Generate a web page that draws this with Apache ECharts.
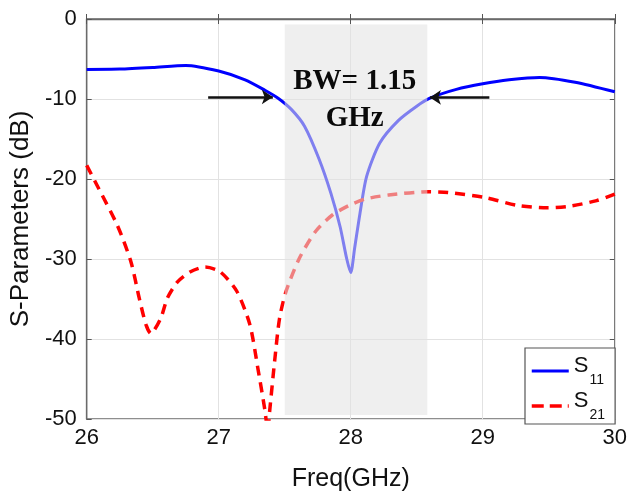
<!DOCTYPE html>
<html><head><meta charset="utf-8">
<script src="https://cdn.jsdelivr.net/npm/echarts@6/dist/echarts.min.js"></script>
<style>html,body{margin:0;padding:0;background:#fff}#c{width:630px;height:497px}</style>
</head><body><div id="c"></div>
<script>
// ---- data ----
const s11Freq = [26.0, 26.25, 26.5, 26.75, 27.0, 27.2, 27.35, 27.45, 27.55, 27.65, 27.76, 27.85, 27.92, 27.97, 28.0, 28.03, 28.07, 28.12, 28.22, 28.36, 28.5, 28.6, 28.8, 29.0, 29.2, 29.43, 29.7, 30.0];
const s11Db   = [-6.3, -6.25, -6.05, -5.8, -6.5, -7.6, -8.9, -9.9, -11.3, -13.4, -17.5, -21.8, -26.0, -30.0, -31.7, -28.6, -24.3, -19.7, -15.5, -12.7, -10.9, -9.9, -8.8, -8.1, -7.6, -7.3, -7.9, -9.1];
const s21Freq = [26.0, 26.085, 26.235, 26.336, 26.398, 26.449, 26.486, 26.561, 26.611, 26.686, 26.786, 26.898, 27.011, 27.136, 27.236, 27.299, 27.349, 27.372, 27.386, 27.424, 27.461, 27.511, 27.611, 27.736, 27.861, 27.987, 28.111, 28.287, 28.587, 28.737, 29.012, 29.262, 29.487, 29.662, 29.863, 30.0];
const s21Db   = [-18.3, -21.0, -25.9, -30.4, -34.9, -38.2, -39.3, -37.4, -34.9, -32.9, -31.6, -31.0, -31.6, -34.0, -38.2, -43.9, -48.8, -51.5, -49.0, -42.7, -37.4, -34.0, -29.9, -26.5, -24.5, -23.3, -22.5, -22.0, -21.6, -21.7, -22.3, -23.3, -23.6, -23.4, -22.7, -21.9];
const xTicks = [26, 27, 28, 29, 30];
const yTicks = [0, -10, -20, -30, -40, -50];
const bandEdges = [27.5, 28.58];
const bandDbRange = [-0.7, -49.5];
const bandLabel = ['BW= 1.15', 'GHz'];
const bandLabelPos = [28.03, -10.1];
const arrowLeft = [[26.92, -9.75], [27.41, -9.75]];
const arrowRight = [[29.05, -9.8], [28.6, -9.8]];
const seriesNames = ['S11', 'S21'];

// ---- chart ----
const chart = echarts.init(document.getElementById('c'), null, {renderer: 'canvas'});
const FONT = 'Liberation Sans, Arial, sans-serif';
const axisCommon = {
  axisLine: {show: true, lineStyle: {color: '#6a6a6a', width: 1.3}},
  axisTick: {show: true, inside: true, length: 5, lineStyle: {color: '#555', width: 1}},
  splitLine: {show: true, lineStyle: {color: '#e2e2e2', width: 1}},
};
chart.setOption({
  backgroundColor: '#fff',
  animation: false,
  grid: {left: 82, right: 15, top: 19, bottom: 71, show: true, borderColor: '#6a6a6a', borderWidth: 1.3, backgroundColor: 'transparent'},
  xAxis: [{
    type: 'value', min: xTicks[0], max: xTicks[xTicks.length - 1], interval: 1,
    name: 'Freq(GHz)', nameLocation: 'middle', nameGap: 48,
    nameTextStyle: {fontSize: 25, color: '#111', fontFamily: FONT},
    axisLabel: {fontSize: 22, color: '#111', margin: 8, fontFamily: FONT},
    ...axisCommon
  }, {
    type: 'value', position: 'top', min: xTicks[0], max: xTicks[xTicks.length - 1], interval: 1,
    axisLabel: {show: false}, splitLine: {show: false},
    axisLine: {show: false}, axisTick: {show: true, inside: true, length: 5, lineStyle: {color: '#555'}}
  }],
  yAxis: [{
    type: 'value', min: yTicks[yTicks.length - 1], max: yTicks[0], interval: 10,
    name: 'S-Parameters (dB)', nameLocation: 'middle', nameGap: 47, nameRotate: 90,
    nameTextStyle: {fontSize: 26, color: '#111', fontFamily: FONT},
    axisLabel: {fontSize: 22, color: '#111', margin: 10, fontFamily: FONT},
    ...axisCommon
  }, {
    type: 'value', position: 'right', min: yTicks[yTicks.length - 1], max: yTicks[0], interval: 10,
    axisLabel: {show: false}, splitLine: {show: false},
    axisLine: {show: false}, axisTick: {show: true, inside: true, length: 5, lineStyle: {color: '#555'}}
  }],
  legend: {
    data: [
      {name: seriesNames[0], lineStyle: {width: 3}},
      {name: seriesNames[1], lineStyle: {width: 3.5, type: [12, 6]}}
    ],
    orient: 'vertical', left: 525, top: 348,
    padding: [7, 9, 2, 5], itemGap: 3, itemWidth: 37, itemHeight: 14,
    backgroundColor: '#fff', borderColor: '#555', borderWidth: 1.2, borderRadius: 0,
    itemStyle: {opacity: 0},
    formatter: n => '{s|S}{n|' + n.slice(1) + '}{h| }',
    textStyle: {
      color: '#111', fontFamily: FONT,
      rich: {
        s: {fontSize: 22, lineHeight: 22, verticalAlign: 'top', fontFamily: FONT, color: '#111'},
        n: {fontSize: 14, lineHeight: 14, verticalAlign: 'bottom', fontFamily: FONT, color: '#111', padding: [0, 0, 0, 1]},
        h: {fontSize: 4, lineHeight: 32, width: 0}
      }
    }
  },
  series: [{
    name: seriesNames[0], type: 'line', smooth: 0.25, symbol: 'none', z: 3,
    data: s11Freq.map((f, i) => [f, s11Db[i]]),
    lineStyle: {color: '#0000ff', width: 3},
    itemStyle: {color: '#0000ff'}
  }, {
    name: seriesNames[1], type: 'line', smooth: 0.25, symbol: 'none', z: 3,
    data: s21Freq.map((f, i) => [f, s21Db[i]]),
    lineStyle: {color: '#ff0000', width: 3.5, type: [10, 7]},
    itemStyle: {color: '#ff0000'}
  }, {
    name: 'band', type: 'custom', z: 10, silent: true,
    data: [[bandEdges[0], bandEdges[1], bandDbRange[0], bandDbRange[1]]],
    encode: {x: [0, 1], y: [2, 3]},
    renderItem: (params, api) => {
      const p0 = api.coord([api.value(0), api.value(2)]);
      const p1 = api.coord([api.value(1), api.value(3)]);
      const pt = api.coord(bandLabelPos);
      return {type: 'group', children: [
        {type: 'rect', shape: {x: p0[0], y: p0[1], width: p1[0] - p0[0], height: p1[1] - p0[1]},
          style: {fill: 'rgba(226,226,226,0.56)'}},
        {type: 'text', x: pt[0], y: pt[1], z2: 20,
          style: {text: bandLabel.join('\n'), fill: '#0a0a0a', align: 'center', verticalAlign: 'middle',
            font: 'bold 29px "Liberation Serif", "Times New Roman", serif', lineHeight: 37}}
      ]};
    }
  }, {
    name: 'notes', type: 'line', data: [], z: 12, silent: true,
    markLine: {
      silent: true, symbol: ['none', 'arrow'], symbolSize: 11,
      label: {show: false},
      lineStyle: {color: '#111', width: 2.5, type: 'solid'},
      data: [
        [{coord: arrowLeft[0]}, {coord: arrowLeft[1]}],
        [{coord: arrowRight[0]}, {coord: arrowRight[1]}]
      ]
    }
  }]
});
</script>
</body></html>
